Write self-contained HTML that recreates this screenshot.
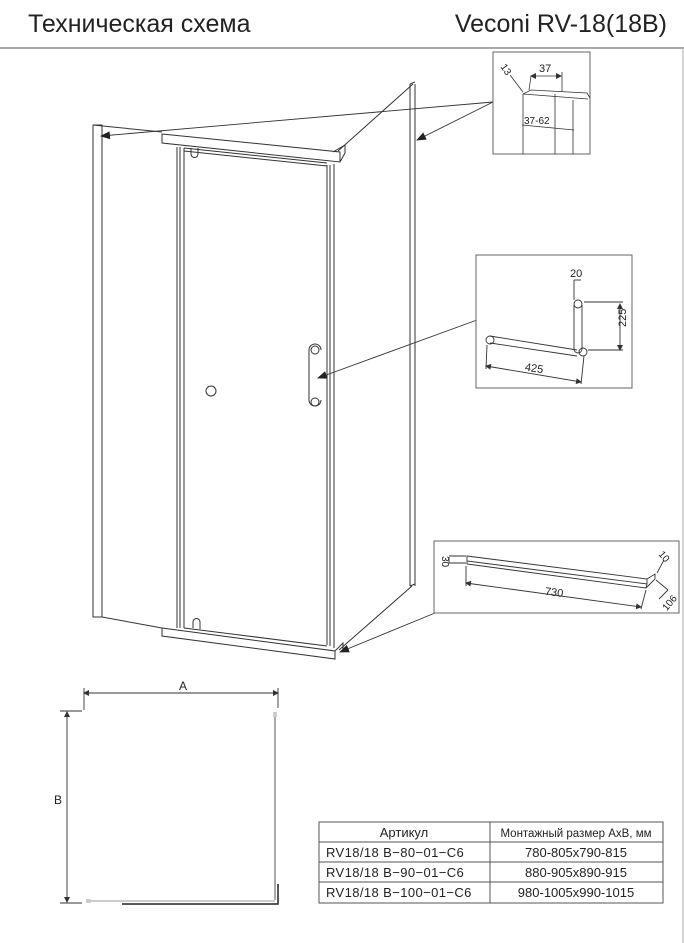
<!DOCTYPE html>
<html><head><meta charset="utf-8"><style>
html,body{margin:0;padding:0;background:#fff;}
svg{display:block;}
text{font-family:"Liberation Sans","Noto Sans CJK SC",sans-serif;fill:#222;}
</style></head><body>
<svg width="684" height="943" viewBox="0 0 684 943" xmlns="http://www.w3.org/2000/svg">
<defs>
<marker id="ar" markerWidth="10" markerHeight="8" refX="9" refY="4" orient="auto" markerUnits="userSpaceOnUse">
<path d="M0,0 L10,4 L0,8 z" fill="#222"/></marker>
<marker id="sa" markerWidth="6" markerHeight="6" refX="5" refY="3" orient="auto" markerUnits="userSpaceOnUse">
<path d="M0,0 L6,3 L0,6 z" fill="#333"/></marker>
<marker id="sb" markerWidth="6" markerHeight="6" refX="1" refY="3" orient="auto" markerUnits="userSpaceOnUse">
<path d="M6,0 L0,3 L6,6 z" fill="#333"/></marker>
</defs>
<text x="28" y="32" font-size="25">Техническая схема</text>
<text x="667" y="32" font-size="25" text-anchor="end">Veconi RV-18(18B)</text>
<line x1="0" y1="48" x2="684" y2="48" stroke="#777" stroke-width="1.2"/>
<line x1="683" y1="48" x2="683" y2="943" stroke="#aaa" stroke-width="1"/>

<g fill="none" stroke="#333" stroke-width="1">
<rect x="93" y="125" width="9" height="492"/>
<line x1="93" y1="125" x2="162" y2="132"/>
<path d="M162,134 L340,152 L340,162 L162,143 Z" fill="#fff"/>
<path d="M333,152 L345,145 L345,153 L340,162"/>
<line x1="177" y1="147" x2="177" y2="628"/>
<line x1="180" y1="147" x2="180" y2="628"/>
<line x1="184" y1="148" x2="184" y2="628"/>
<line x1="327" y1="165" x2="327" y2="645"/>
<line x1="330" y1="165" x2="330" y2="646"/>
<line x1="334" y1="164" x2="334" y2="648"/>
<line x1="184" y1="148" x2="327" y2="163"/>
<line x1="184" y1="151" x2="327" y2="166"/>
<path d="M191,148 v6 a3.5,3.5 0 0 0 7,0 v-6"/>
<path d="M309,350 v50 a6,6 0 0 0 12,0 M309,350 a6,6 0 0 1 12,0"/>
<circle cx="315" cy="350" r="4"/><circle cx="315" cy="402" r="4"/>
<circle cx="211" cy="391" r="5"/>
<line x1="410" y1="84" x2="410" y2="586"/>
<line x1="415" y1="84" x2="415" y2="586"/>
<line x1="410" y1="84" x2="415" y2="82"/>
<line x1="410" y1="586" x2="415" y2="584"/>
<line x1="413" y1="84" x2="338" y2="151"/>
<line x1="412" y1="586" x2="339" y2="650"/>
<path d="M162,628 L335,651 L335,659 L162,636 Z" fill="#fff"/>
<line x1="184" y1="628" x2="327" y2="646"/>
<path d="M335,651 L343,643 L343,650"/>
<path d="M193,628 v-6 a3.5,3.5 0 0 1 7,0 v7"/>
<line x1="102" y1="617" x2="162" y2="628"/>
</g>
<g stroke="#333" stroke-width="0.9" fill="none">
<line x1="493" y1="102" x2="101" y2="136" marker-end="url(#ar)"/>
<line x1="493" y1="102" x2="417" y2="140" marker-end="url(#ar)"/>
<line x1="477" y1="320" x2="318" y2="378" marker-end="url(#ar)"/>
<line x1="435" y1="613" x2="340" y2="652" marker-end="url(#ar)"/>
</g>

<rect x="493" y="52" width="97" height="102" fill="#fff" stroke="#666"/>
<g stroke="#333" stroke-width="0.8" fill="none">
<path d="M523,94 L531,90 L587,93 L590,98"/>
<path d="M523,94 L523,154 M555,94 L555,154 M573,100 L573,154"/>
<path d="M523,94 L588,99"/>
<line x1="531" y1="76" x2="561" y2="76" marker-start="url(#sb)" marker-end="url(#sa)"/>
<line x1="531" y1="76" x2="529" y2="90"/><line x1="562" y1="72" x2="562" y2="92"/>
<line x1="522" y1="125" x2="574" y2="130"/>
<line x1="510" y1="75" x2="523" y2="92"/>
</g>
<text x="539" y="72" font-size="11">37</text>
<text x="524" y="124" font-size="10">37-62</text>
<text x="500" y="73" font-size="10" transform="rotate(55 506 70)">13</text>

<rect x="476" y="255" width="156" height="133" fill="#fff" stroke="#666"/>
<g stroke="#333" stroke-width="0.9" fill="none">
<path d="M574,305 v44 a4,4 0 0 0 8,0 v-44"/>
<circle cx="578" cy="304" r="4"/><circle cx="583" cy="352" r="4"/>
<path d="M490,336 L577,350 M490,343 L577,356"/>
<circle cx="490" cy="340" r="4"/>
<line x1="486" y1="366" x2="581" y2="382" marker-start="url(#sb)" marker-end="url(#sa)"/>
<line x1="487" y1="345" x2="486" y2="369"/><line x1="584" y1="356" x2="581" y2="384"/>
<line x1="620" y1="304" x2="620" y2="350" marker-start="url(#sb)" marker-end="url(#sa)"/>
<line x1="584" y1="302" x2="623" y2="302"/><line x1="588" y1="350" x2="623" y2="350"/>
<line x1="574" y1="280" x2="581" y2="280"/><line x1="574" y1="280" x2="574" y2="300"/>
</g>
<text x="570" y="277" font-size="11">20</text>
<text x="525" y="372" font-size="11" transform="rotate(9 535 368)">425</text>
<text x="616" y="337" font-size="11" transform="rotate(-90 616 327)">225</text>

<rect x="434" y="541" width="245" height="72" fill="#fff" stroke="#666"/>
<g stroke="#333" stroke-width="0.9" fill="none">
<path d="M467,556 L647,579 L647,584 L467,561 Z"/>
<path d="M467,561 L467,564 L646,588 L647,584"/>
<path d="M646,588 L655,579 L655,574 L647,579"/>
<line x1="466" y1="583" x2="641" y2="607" marker-start="url(#sb)" marker-end="url(#sa)"/>
<line x1="466" y1="566" x2="466" y2="586"/><line x1="646" y1="590" x2="641" y2="609"/>
<line x1="449" y1="557" x2="449" y2="563"/><line x1="449" y1="556" x2="466" y2="556"/><line x1="449" y1="563" x2="466" y2="563"/>
<line x1="657" y1="573" x2="664" y2="560"/>
<line x1="656" y1="580" x2="668" y2="590"/><line x1="659" y1="599" x2="668" y2="590"/>
</g>
<text x="545" y="596" font-size="11" transform="rotate(7 555 592)">730</text>
<text x="438" y="560" font-size="10" transform="rotate(90 442 560)">30</text>
<text x="660" y="560" font-size="10" transform="rotate(50 665 555)">10</text>
<text x="660" y="607" font-size="10" transform="rotate(-50 668 602)">106</text>

<g stroke="#333" stroke-width="0.9" fill="none">
<line x1="84" y1="693" x2="278" y2="693" marker-start="url(#sb)" marker-end="url(#sa)"/>
<line x1="84" y1="688" x2="84" y2="710"/><line x1="278" y1="688" x2="278" y2="708"/>
<line x1="60" y1="711" x2="82" y2="711"/><line x1="60" y1="903" x2="82" y2="903"/>
<line x1="67" y1="712" x2="67" y2="902" marker-start="url(#sb)" marker-end="url(#sa)"/>
<line x1="275" y1="716" x2="275" y2="900" stroke="#444"/>
<line x1="88" y1="901" x2="275" y2="901" stroke="#999"/>
<path d="M122,904 L278,904 L278,884" stroke="#222" stroke-width="1.5"/>
</g>
<rect x="273" y="712" width="4" height="5" fill="#ccc"/>
<rect x="86" y="899" width="5" height="4" fill="#ccc"/>
<text x="183" y="690" font-size="12" text-anchor="middle">A</text>
<text x="54" y="804" font-size="12">B</text>

<g stroke="#555" stroke-width="1" fill="none">
<rect x="319" y="822" width="344" height="81"/>
<line x1="490" y1="822" x2="490" y2="903"/>
<line x1="319" y1="842" x2="663" y2="842"/>
<line x1="319" y1="862" x2="663" y2="862"/>
<line x1="319" y1="882" x2="663" y2="882"/>
</g>
<g font-size="13">
<text x="404" y="837" text-anchor="middle">Артикул</text>
<text x="576" y="837" text-anchor="middle" font-size="11.5">Монтажный размер АхВ, мм</text>
<text x="326" y="857" letter-spacing="0.4">RV18/18 B−80−01−C6</text>
<text x="326" y="877" letter-spacing="0.4">RV18/18 B−90−01−C6</text>
<text x="326" y="897" letter-spacing="0.4">RV18/18 B−100−01−C6</text>
<text x="576" y="857" text-anchor="middle">780-805x790-815</text>
<text x="576" y="877" text-anchor="middle">880-905x890-915</text>
<text x="576" y="897" text-anchor="middle">980-1005x990-1015</text>
</g>
</svg>
</body></html>
